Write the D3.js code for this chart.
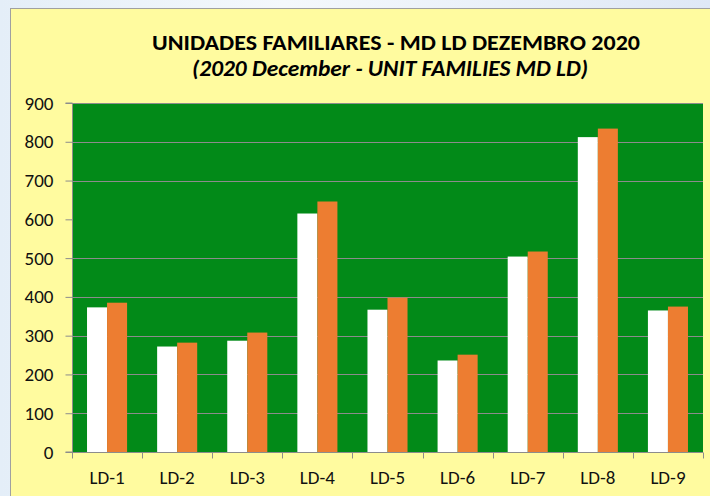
<!DOCTYPE html>
<html>
<head>
<meta charset="utf-8">
<script src="https://cdn.jsdelivr.net/npm/d3@7"></script>
<style>
  html, body { margin: 0; padding: 0; }
  body { width: 710px; height: 496px; overflow: hidden; background: linear-gradient(90deg, #e4eef8, #f4f8fc 40%, #dfe8f6); }
  svg { display: block; }
</style>
</head>
<body>
<svg id="chart" width="710" height="496"></svg>
<script>
const categories = ["LD-1", "LD-2", "LD-3", "LD-4", "LD-5", "LD-6", "LD-7", "LD-8", "LD-9"];
const seriesNames = ["Series1", "Series2"];
const series1Values = [373, 272, 287, 615, 367, 236, 504, 812, 365];
const series2Values = [385, 282, 308, 646, 398, 251, 517, 834, 375];
const yTicks = [0, 100, 200, 300, 400, 500, 600, 700, 800, 900];
const gridValues = [100, 200, 300, 400, 500, 700, 800];
const titleLine1 = "UNIDADES FAMILIARES - MD LD DEZEMBRO 2020";
const titleLine2 = "(2020 December  - UNIT FAMILIES MD LD)";

const colors = { Series1: "#ffffff", Series2: "#ed7d31" };
const font = "Carlito, 'Liberation Sans Narrow', 'Open Sans', Arial, sans-serif";

const svg = d3.select("#chart");

// chart area
svg.append("rect").attr("x", 10.5).attr("y", 8.5).attr("width", 720).attr("height", 500)
  .attr("fill", "#fffb9f").attr("stroke", "#a0a0a0").attr("stroke-width", 1);

const pLeft = 72, pRight = 703, pTop = 103, pBottom = 452;

const x = d3.scaleBand().domain(categories).range([pLeft, pRight]).paddingInner(0).paddingOuter(0);
const xSub = d3.scaleBand().domain(seriesNames).range([0, x.bandwidth()]).paddingInner(0).paddingOuter(0.75);
const y = d3.scaleLinear().domain([0, 900]).range([pBottom, pTop]);

// plot area
svg.append("rect").attr("x", pLeft).attr("y", pTop).attr("width", pRight - pLeft).attr("height", pBottom - pTop)
  .attr("fill", "#028a18");

// gridlines
svg.append("g").selectAll("line").data(gridValues).join("line")
  .attr("x1", pLeft).attr("x2", pRight)
  .attr("y1", d => Math.round(y(d)) + 0.5).attr("y2", d => Math.round(y(d)) + 0.5)
  .attr("stroke", "#8c8c8c").attr("stroke-width", 1.2);
svg.append("line").attr("x1", pLeft).attr("x2", pRight).attr("y1", pTop + 0.5).attr("y2", pTop + 0.5)
  .attr("stroke", "#8c8c8c").attr("stroke-width", 1.2);

// bars
const data = categories.map((c, i) => ({ cat: c, vals: [
  { s: "Series1", v: series1Values[i] },
  { s: "Series2", v: series2Values[i] }
]}));

const groups = svg.append("g").selectAll("g").data(data).join("g")
  .attr("transform", d => `translate(${x(d.cat)},0)`);
groups.selectAll("rect").data(d => d.vals).join("rect")
  .attr("x", d => xSub(d.s))
  .attr("width", xSub.bandwidth())
  .attr("y", d => y(d.v))
  .attr("height", d => y(0) - y(d.v))
  .attr("fill", d => colors[d.s]);

// y axis
const yAxis = d3.axisLeft(y).tickValues(yTicks).tickSize(7).tickPadding(12).tickFormat(d3.format("d"));
const ya = svg.append("g").attr("transform", `translate(${pLeft + 0.5},0)`).call(yAxis);
ya.select(".domain").attr("stroke", "#8c8c8c").attr("d", `M-7,${pTop}H0V${pBottom}H-7`);
ya.selectAll(".tick line").attr("stroke", "#8c8c8c");
ya.selectAll(".tick text").attr("font-family", font).attr("font-size", 19).attr("fill", "#111");

// x axis
const xAxis = d3.axisBottom(x).tickSize(0).tickPadding(18);
const xa = svg.append("g").attr("transform", `translate(0,${pBottom + 0.5})`).call(xAxis);
xa.select(".domain").attr("stroke", "#8c8c8c").attr("d", `M${pLeft},0H${pRight}`);
xa.selectAll(".tick text").attr("font-family", font).attr("font-size", 19).attr("fill", "#111");
const bounds = categories.map(c => x(c)).concat([pRight]);
xa.append("g").selectAll("line").data(bounds).join("line")
  .attr("x1", d => Math.round(d) + 0.5).attr("x2", d => Math.round(d) + 0.5)
  .attr("y1", 0).attr("y2", 6).attr("stroke", "#8c8c8c");

// titles
svg.append("text").attr("x", 396).attr("y", 50).attr("text-anchor", "middle")
  .attr("font-family", font).attr("font-weight", "bold").attr("font-size", 23)
  .attr("textLength", 488).attr("lengthAdjust", "spacingAndGlyphs")
  .text(titleLine1);
svg.append("text").attr("x", 390).attr("y", 76).attr("text-anchor", "middle")
  .attr("font-family", font).attr("font-weight", "bold").attr("font-style", "italic").attr("font-size", 23)
  .attr("textLength", 396).attr("lengthAdjust", "spacingAndGlyphs")
  .text(titleLine2);
</script>
</body>
</html>
